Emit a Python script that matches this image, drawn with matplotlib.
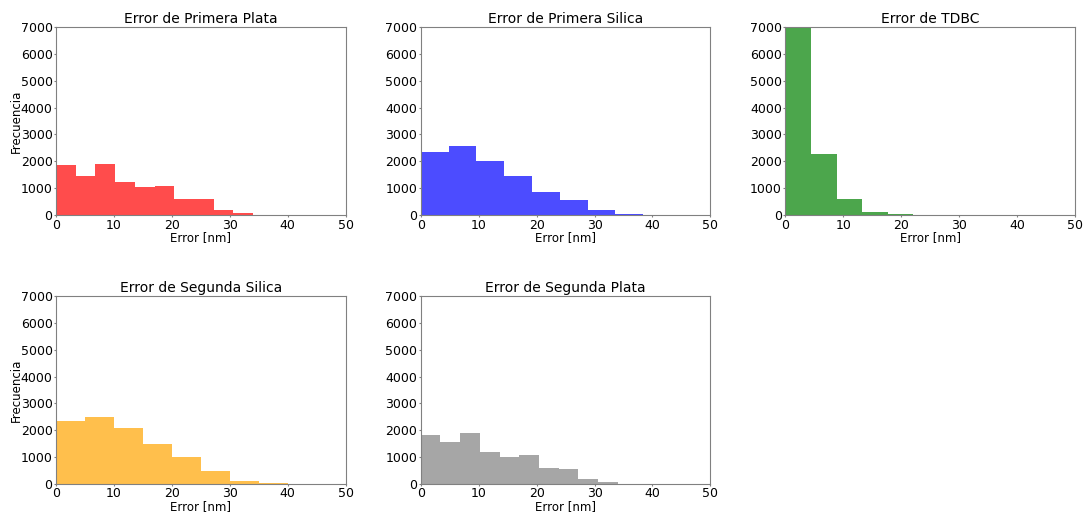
import numpy as np
import matplotlib
matplotlib.use("Agg")
import matplotlib.pyplot as plt

titles = ["Error de Primera Plata", "Error de Primera Silica", "Error de TDBC",
          "Error de Segunda Silica", "Error de Segunda Plata"]
colors = ["red", "blue", "green", "orange", "gray"]

# bin widths [nm] and counts per histogram
bin_width_primera_plata = 3.4
counts_primera_plata = [1880, 1450, 1900, 1240, 1040, 1070, 580, 580, 200, 60]

bin_width_primera_silica = 4.8
counts_primera_silica = [2360, 2570, 2030, 1440, 840, 560, 170, 25]

bin_width_tdbc = 4.42
counts_tdbc = [6980, 2260, 600, 100, 40, 15]

bin_width_segunda_silica = 5.0
counts_segunda_silica = [2340, 2490, 2100, 1480, 1000, 490, 120, 25]

bin_width_segunda_plata = 3.4
counts_segunda_plata = [1840, 1560, 1880, 1200, 990, 1070, 610, 540, 200, 60]

series = [
    (bin_width_primera_plata, counts_primera_plata),
    (bin_width_primera_silica, counts_primera_silica),
    (bin_width_tdbc, counts_tdbc),
    (bin_width_segunda_silica, counts_segunda_silica),
    (bin_width_segunda_plata, counts_segunda_plata),
]

fig, axes = plt.subplots(2, 3, figsize=(10.86, 5.15), dpi=100)
fig.subplots_adjust(left=0.0516, right=0.990, top=0.9476, bottom=0.0602,
                    wspace=0.259, hspace=0.43)
axes = axes.ravel()

for i, (ax, title, color, (bw, counts)) in enumerate(zip(axes, titles, colors, series)):
    counts = np.asarray(counts, dtype=float)
    edges = np.arange(len(counts) + 1) * bw
    centers = edges[:-1] + bw / 2
    ax.hist(centers, bins=edges, weights=counts, color=color, alpha=0.7)
    ax.set_xlim(0, 50)
    ax.set_ylim(0, 7000)
    ax.set_yticks(np.arange(0, 7001, 1000))
    ax.set_xticks(np.arange(0, 51, 10))
    ax.set_title(title, fontsize=10, pad=3)
    ax.set_xlabel("Error [nm]", fontsize=8.5, labelpad=0)
    if i % 3 == 0:
        ax.set_ylabel("Frecuencia", fontsize=8.5, labelpad=-2)
    ax.tick_params(labelsize=9, length=1.5, pad=1, color="gray")
    for s in ax.spines.values():
        s.set_color("gray")
        s.set_linewidth(0.8)

axes[5].axis("off")

fig.savefig("out.png", dpi=100)
